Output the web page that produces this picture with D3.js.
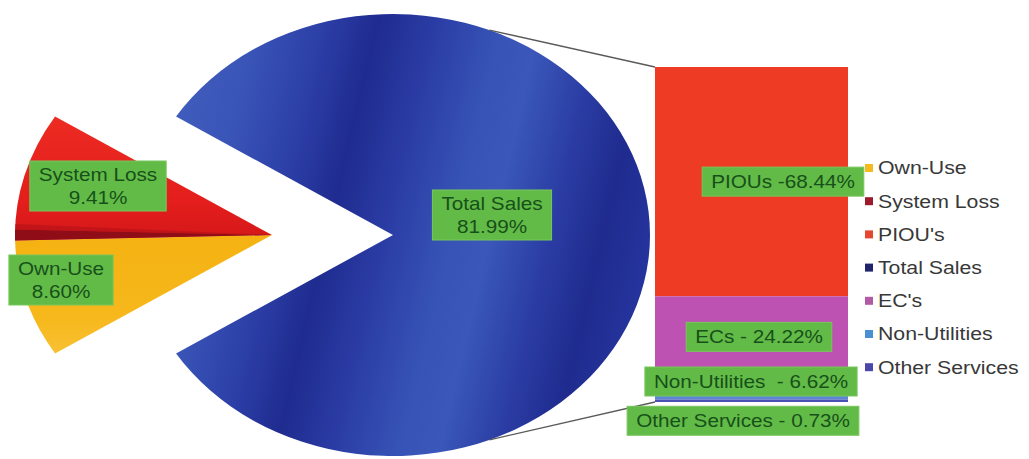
<!DOCTYPE html>
<html>
<head>
<meta charset="utf-8">
<script src="https://cdn.jsdelivr.net/npm/d3@7"></script>
<style>
  html, body { margin: 0; padding: 0; background: #ffffff; }
  svg { display: block; }
  text { font-family: "Liberation Sans", Arial, sans-serif; }
</style>
</head>
<body>
<svg id="chart" width="1029" height="459"></svg>
<script>
// ---- data ----
const pieNames  = ["Total Sales", "Own-Use", "System Loss"];
const pieValues = [81.99, 8.60, 9.41];

const barNames  = ["PIOUs", "ECs", "Non-Utilities", "Other Services"];
const barValues = [68.44, 24.22, 6.62, 0.73];
const barSeparators = [" -", " - ", "  - ", " - "];

const legendNames = ["Own-Use", "System Loss", "PIOU's", "Total Sales", "EC's", "Non-Utilities", "Other Services"];

// ---- styling ----
const legendColors = {
  "Own-Use": "#f3bb1f", "System Loss": "#9b1b2c", "PIOU's": "#e8472f",
  "Total Sales": "#1f246a", "EC's": "#b35aa6", "Non-Utilities": "#4b8fd3",
  "Other Services": "#4b47aa"
};
const barColors = ["#ee3b23", "#bd52b3", "#5b86d6", "#4c4fb4"];

const svg = d3.select("#chart");
const stretch = 1.15;            // horizontal stretch applied to text
const labelFill = "#63bb47", labelText = "#17501a";

// ---- pie (drawn as a circle, squashed vertically into an ellipse) ----
const cx = 393, cy = 235, rx = 257, ry = 221;
const explode = 121;

const defs = svg.append("defs");
// metallic blue: slanted light/dark bands, defined in the pie's local space
const blue = defs.append("linearGradient").attr("id", "blueMetal")
  .attr("gradientUnits", "userSpaceOnUse")
  .attr("x1", -230).attr("y1", -47).attr("x2", 260).attr("y2", 53);
[[0.00, "#3f5bbb"], [0.10, "#3a55b8"], [0.24, "#2b3ea6"], [0.34, "#1f2b8f"],
 [0.45, "#2a3ca4"], [0.58, "#3753b6"], [0.66, "#3a57b9"], [0.78, "#2a3ca3"],
 [0.88, "#1f2b8e"], [1.00, "#2636a0"]]
  .forEach(([o, c]) => blue.append("stop").attr("offset", o).attr("stop-color", c));

const redGrad = defs.append("linearGradient").attr("id", "redFill")
  .attr("x1", 0).attr("y1", 0).attr("x2", 0).attr("y2", 1);
[[0, "#ec2b22"], [0.7, "#e31e1c"], [1, "#d41719"]]
  .forEach(([o, c]) => redGrad.append("stop").attr("offset", o).attr("stop-color", c));

const yelGrad = defs.append("linearGradient").attr("id", "yelFill")
  .attr("x1", 0).attr("y1", 0).attr("x2", 0).attr("y2", 1);
[[0, "#f5b212"], [0.7, "#f6b81c"], [1, "#f8c032"]]
  .forEach(([o, c]) => yelGrad.append("stop").attr("offset", o).attr("stop-color", c));

const sliceFill = { "Total Sales": "url(#blueMetal)", "Own-Use": "url(#yelFill)", "System Loss": "url(#redFill)" };

const mainShare = pieValues[0] / d3.sum(pieValues) * 2 * Math.PI;
const startA = Math.PI / 2 - mainShare / 2;
const pie = d3.pie().sort(null).value(d => d)
  .startAngle(startA).endAngle(startA + 2 * Math.PI);
const arcs = pie(pieValues);
const arc = d3.arc().innerRadius(0).outerRadius(rx);

const pieG = svg.append("g")
  .attr("transform", `translate(${cx},${cy}) scale(1,${ry / rx})`);

arcs.forEach((a, i) => {
  const name = pieNames[i];
  const g = pieG.append("g")
    .attr("transform", i === 0 ? null : `translate(${-explode},0)`);
  g.append("path").attr("d", arc(a)).attr("fill", sliceFill[name]);
  if (name === "System Loss") {
    // dark bevel along the lower edge of the slice
    const bevel = { startAngle: a.startAngle, endAngle: a.startAngle + 0.05 };
    g.append("path").attr("d", arc(bevel)).attr("fill", "#8f0d17");
    const soft = { startAngle: a.startAngle + 0.05, endAngle: a.startAngle + 0.075 };
    g.append("path").attr("d", arc(soft)).attr("fill", "#b8121a").attr("opacity", 0.7);
  }
});

// ---- stacked bar ----
const barX = 655, barW = 193;
const y = d3.scaleLinear().domain([0, 100]).range([402, 67]);
let acc = 0;
const stackRows = barValues.map((v, i) => {
  // top-down: the first value sits at the top of the column
  const top = 100 - acc; acc += v;
  return { name: barNames[i], value: v, y0: Math.max(0, 100 - acc), y1: top, color: barColors[i] };
});

svg.append("g").selectAll("rect").data(stackRows).join("rect")
  .attr("x", barX).attr("width", barW)
  .attr("y", d => y(d.y1))
  .attr("height", d => y(d.y0) - y(d.y1))
  .attr("fill", d => d.color);

// ---- connector lines between pie and column ----
const edgeA = 0.385; // angle from vertical where the lines touch the pie
const ellipsePt = a => [cx + rx * Math.sin(a), cy - ry * Math.cos(a)];
const lines = [[ellipsePt(edgeA), [barX, y(100)]], [ellipsePt(Math.PI - edgeA), [barX, y(0)]]];
svg.append("g").selectAll("line").data(lines).join("line")
  .attr("x1", d => d[0][0]).attr("y1", d => d[0][1])
  .attr("x2", d => d[1][0]).attr("y2", d => d[1][1])
  .attr("stroke", "#5a5a5a").attr("stroke-width", 1.3);

// ---- data labels ----
const fs = 18;
function labelBox(x, yc, lines) {
  const g = svg.append("g").attr("transform", `translate(${x},${yc})`);
  const rect = g.append("rect");
  const t = g.append("text").attr("text-anchor", "middle")
    .attr("font-size", fs).attr("fill", labelText)
    .attr("transform", `scale(${stretch},1)`)
    .style("white-space", "pre");
  const lh = 23;
  lines.forEach((s, k) => {
    t.append("tspan").attr("x", 0)
      .attr("y", (k - (lines.length - 1) / 2) * lh)
      .attr("dy", "0.35em").text(s);
  });
  let w = 0;
  t.selectAll("tspan").each(function () { w = Math.max(w, this.getComputedTextLength()); });
  w = w * stretch + 18;
  const h = lines.length === 1 ? 29 : 50;
  rect.attr("x", -w / 2).attr("y", -h / 2).attr("width", w).attr("height", h)
    .attr("fill", labelFill).attr("stroke", "#78c65c").attr("stroke-width", 1);
}

const pct = v => v.toFixed(2) + "%";
const pieLabelPos = { "Total Sales": [492, 215], "System Loss": [98, 186], "Own-Use": [61, 280] };
pieNames.forEach((n, i) => labelBox(pieLabelPos[n][0], pieLabelPos[n][1], [n, pct(pieValues[i])]));

const barLabelX = [783, 759, 751, 743];
const barLabelShift = [0, 0, -7, 20];
stackRows.forEach((d, i) => {
  const yc = (y(d.y0) + y(d.y1)) / 2 + barLabelShift[i];
  labelBox(barLabelX[i], yc, [d.name + barSeparators[i] + pct(d.value)]);
});

// ---- legend ----
const legend = svg.append("g").attr("transform", "translate(865,168)");
const item = legend.selectAll("g").data(legendNames).join("g")
  .attr("transform", (d, i) => `translate(0,${i * 33.2})`);
item.append("rect").attr("x", 0).attr("y", -4).attr("width", 8).attr("height", 8)
  .attr("fill", d => legendColors[d]);
item.append("text").attr("x", 13 / stretch).attr("dy", "0.35em")
  .attr("transform", `scale(${stretch},1)`)
  .attr("font-size", 18.5).attr("fill", "#383838").text(d => d);
</script>
</body>
</html>
